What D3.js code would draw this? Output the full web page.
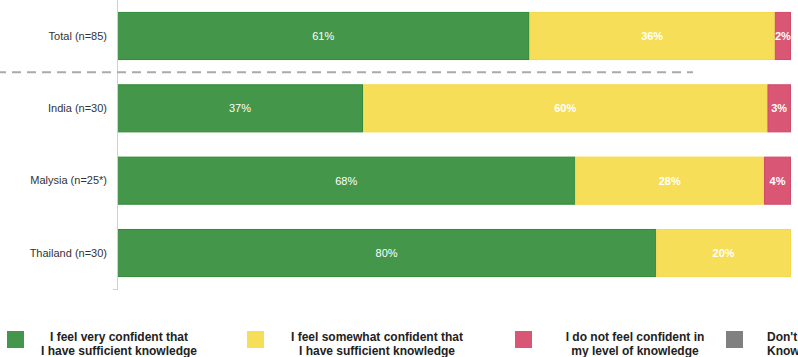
<!DOCTYPE html>
<html><head><meta charset="utf-8">
<script src="https://cdn.jsdelivr.net/npm/d3@7"></script>
<style>body{margin:0;background:#fff}svg{display:block;font-family:"Liberation Sans",Arial,sans-serif}</style>
</head><body><svg id="c" width="798" height="357"></svg>
<script>
const categories = ["Total (n=85)", "India (n=30)", "Malysia (n=25*)", "Thailand (n=30)"];
const seriesNames = ["I feel very confident that|I have sufficient knowledge", "I feel somewhat confident that|I have sufficient knowledge", "I do not feel confident in|my level of knowledge", "Don't|Know"];
const veryConfident = [61.2, 36.5, 68, 80];
const somewhatConfident = [36.4, 60, 28, 20];
const notConfident = [2.4, 3.5, 4, 0];
const dontKnow = [0, 0, 0, 0];
const labelVery = ["61%", "37%", "68%", "80%"];
const labelSomewhat = ["36%", "60%", "28%", "20%"];
const labelNot = ["2%", "3%", "4%", ""];
const colors = ["#44964a", "#f6de58", "#da5675", "#808080"];
const strokes = ["#2f8a38", "#f3d84a", "#cf4a68", "#707070"];

const svg = d3.select("#c");
const keys = ["v", "s", "n", "d"];
const rows = categories.map((c, i) => ({cat: c, v: veryConfident[i], s: somewhatConfident[i], n: notConfident[i], d: dontKnow[i], lv: labelVery[i], ls: labelSomewhat[i], ln: labelNot[i]}));
const stack = d3.stack().keys(keys).offset(d3.stackOffsetExpand)(rows);

const x = d3.scaleLinear().domain([0, 1]).range([117, 791]);
const y = d3.scaleBand().domain(categories).range([0, 289]).paddingInner(0.335).paddingOuter(0.165);

const labelKeys = {v: "lv", s: "ls", n: "ln", d: null};
stack.forEach((layer, li) => {
  const g = svg.append("g");
  g.selectAll("rect").data(layer).join("rect")
    .attr("x", d => x(d[0]) + 0.5)
    .attr("y", d => y(d.data.cat) + 0.5)
    .attr("width", d => Math.max(0, x(d[1]) - x(d[0]) - 1))
    .attr("height", y.bandwidth() - 1)
    .attr("fill", colors[li])
    .attr("stroke", strokes[li])
    .attr("stroke-width", 1)
    .attr("display", d => d[1] - d[0] > 0 ? null : "none");
  const lk = labelKeys[layer.key];
  if (lk) {
    g.selectAll("text").data(layer).join("text")
      .attr("x", d => (x(d[0]) + x(d[1])) / 2)
      .attr("y", d => y(d.data.cat) + y.bandwidth() / 2)
      .attr("dy", "0.35em")
      .attr("text-anchor", "middle")
      .attr("fill", "#fff")
      .attr("font-size", 11)
      .attr("font-weight", li === 0 ? "normal" : "bold")
      .text(d => d.data[lk]);
  }
});

// category axis
const yAxis = d3.axisLeft(y).tickSize(0).tickPadding(10);
const ag = svg.append("g").attr("transform", "translate(117,0)").call(yAxis);
ag.select(".domain").remove();
ag.selectAll("text").attr("font-size", 11).attr("fill", "#333").attr("font-family", "Liberation Sans, Arial, sans-serif");
svg.append("line").attr("x1", 117.5).attr("x2", 117.5).attr("y1", 0).attr("y2", 290).attr("stroke", "#d0d0d0");
svg.append("line").attr("x1", 113).attr("x2", 117.5).attr("y1", 289.5).attr("y2", 289.5).attr("stroke", "#d0d0d0");

// dashed separator
const sepY = (y(categories[0]) + y.bandwidth() + y(categories[1])) / 2;
svg.append("line").attr("x1", 0).attr("x2", 693).attr("y1", sepY).attr("y2", sepY)
  .attr("stroke", "#aaa").attr("stroke-width", 2).attr("stroke-dasharray", "9,6").attr("stroke-dashoffset", 3);

// legend
const legX = [7, 247, 515, 726];
const textX = [119, 377, 635, 767];
const lg = svg.append("g");
seriesNames.forEach((name, i) => {
  lg.append("rect").attr("x", legX[i]).attr("y", 331).attr("width", 17).attr("height", 17).attr("fill", colors[i]);
  const lines = name.split("|");
  const t = lg.append("text").attr("font-size", 12).attr("font-weight", "bold").attr("fill", "#222")
    .attr("text-anchor", i === 3 ? "start" : "middle");
  lines.forEach((ln, j) => t.append("tspan").attr("x", textX[i]).attr("y", 341 + j * 14).text(ln));
});
</script></body></html>
